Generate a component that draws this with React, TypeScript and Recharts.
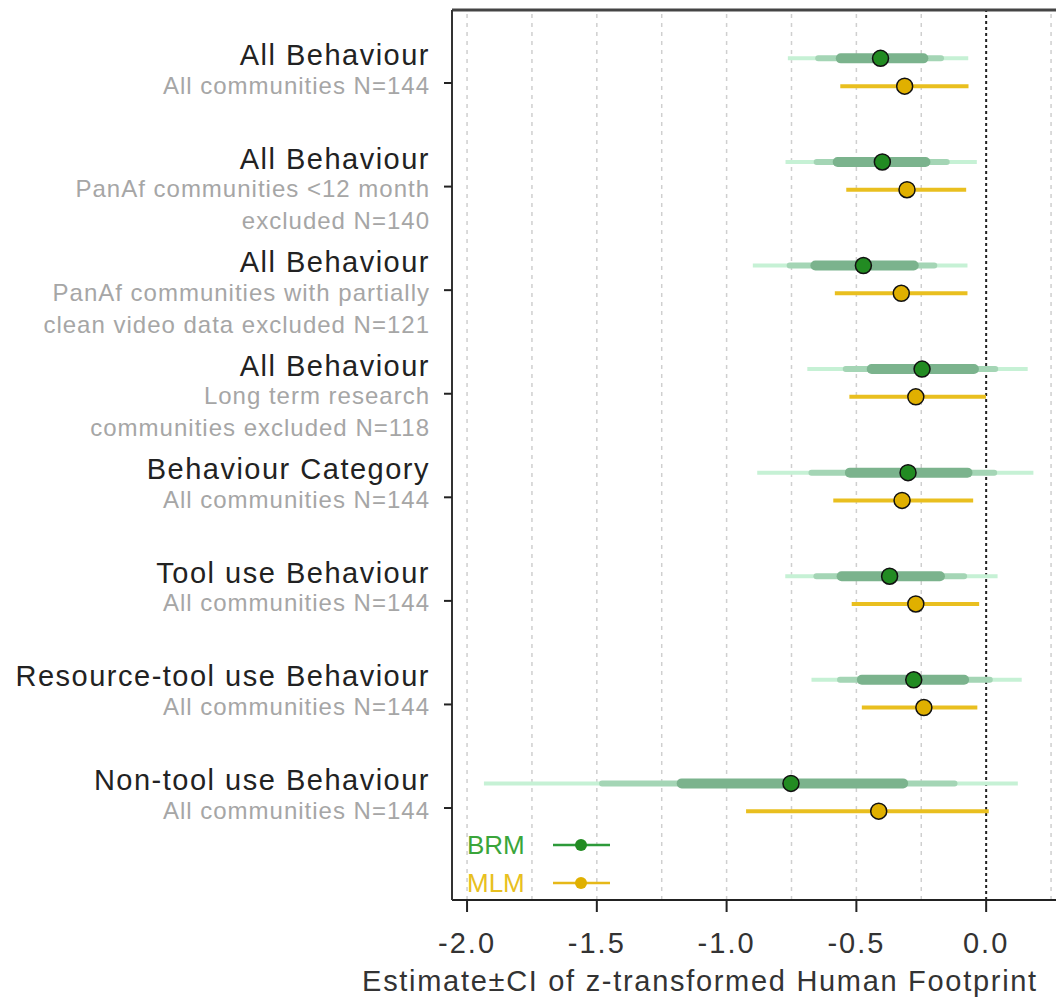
import React from "react";
import {
  ScatterChart,
  Scatter,
  XAxis,
  YAxis,
  ReferenceLine,
} from "recharts";

// rows from top to bottom
const rowTitles = [
  "All Behaviour",
  "All Behaviour",
  "All Behaviour",
  "All Behaviour",
  "Behaviour Category",
  "Tool use Behaviour",
  "Resource-tool use Behaviour",
  "Non-tool use Behaviour",
];
const rowSubtitles = [
  ["All communities N=144"],
  ["PanAf communities <12 month", "excluded N=140"],
  ["PanAf communities with partially", "clean video data excluded N=121"],
  ["Long term research", "communities excluded N=118"],
  ["All communities N=144"],
  ["All communities N=144"],
  ["All communities N=144"],
  ["All communities N=144"],
];
const rowPos = [8, 7, 6, 5, 4, 3, 2, 1];

// BRM estimate and nested credible intervals (outer / middle / inner)
const brmEst = [-0.407, -0.4, -0.473, -0.247, -0.301, -0.372, -0.279, -0.752];
const brmOuterLo = [-0.764, -0.773, -0.899, -0.689, -0.882, -0.774, -0.673, -1.935];
const brmOuterHi = [-0.069, -0.036, -0.072, 0.16, 0.182, 0.044, 0.137, 0.122];
const brmMidLo = [-0.647, -0.653, -0.757, -0.541, -0.673, -0.654, -0.563, -1.48];
const brmMidHi = [-0.174, -0.152, -0.2, 0.035, 0.031, -0.085, 0.014, -0.122];
const brmInnerLo = [-0.56, -0.572, -0.658, -0.441, -0.525, -0.557, -0.479, -1.173];
const brmInnerHi = [-0.242, -0.234, -0.279, -0.047, -0.072, -0.178, -0.085, -0.32];

// MLM estimate and CI
const mlmEst = [-0.314, -0.305, -0.327, -0.271, -0.324, -0.271, -0.24, -0.414];
const mlmLo = [-0.562, -0.539, -0.583, -0.527, -0.589, -0.518, -0.479, -0.925];
const mlmHi = [-0.068, -0.077, -0.072, -0.001, -0.05, -0.027, -0.034, 0.01];

const xTicks = [-2, -1.5, -1, -0.5, 0];
const gridValues = [-2, -1.75, -1.5, -1.25, -1, -0.75, -0.5, -0.25, 0.25];

const X_DOMAIN = [-2.058, 0.35];
const Y_DOMAIN = [0.112, 8.705];
const BRM_OFFSET = 0.238;
const MLM_OFFSET = -0.03;

const FONT = '"Liberation Sans", Arial, sans-serif';

const brmData = brmEst.map((v, i) => ({ x: v, y: rowPos[i] + BRM_OFFSET }));
const mlmData = mlmEst.map((v, i) => ({ x: v, y: rowPos[i] + MLM_OFFSET }));

const intervals = [
  { lo: brmOuterLo, hi: brmOuterHi, off: BRM_OFFSET, color: "#c6f1d5", w: 4, cap: "butt" },
  { lo: brmMidLo, hi: brmMidHi, off: BRM_OFFSET, color: "#a4d5b5", w: 6, cap: "round" },
  { lo: brmInnerLo, hi: brmInnerHi, off: BRM_OFFSET, color: "#7bb38d", w: 10, cap: "round" },
  { lo: mlmLo, hi: mlmHi, off: MLM_OFFSET, color: "#e9bf1f", w: 4, cap: "butt" },
];

const YTick = (props: any) => {
  const { x, y, payload } = props;
  const i = rowPos.indexOf(payload.value);
  if (i < 0) return null;
  const tx = x - 12;
  return (
    <g>
      <text
        x={tx}
        y={y - 28}
        textAnchor="end"
        dominantBaseline="central"
        fontFamily={FONT}
        fontSize={29}
        letterSpacing={1.5}
        fill="#222"
      >
        {rowTitles[i]}
      </text>
      {rowSubtitles[i].map((s, k) => (
        <text
          key={k}
          x={tx}
          y={y + 2 + k * 32}
          textAnchor="end"
          dominantBaseline="central"
          fontFamily={FONT}
          fontSize={24}
          letterSpacing={1}
          fill="#a6a6a6"
        >
          {s}
        </text>
      ))}
    </g>
  );
};

const XTick = (props: any) => {
  const { x, payload } = props;
  return (
    <text
      x={x}
      y={943}
      textAnchor="middle"
      dominantBaseline="central"
      fontFamily={FONT}
      fontSize={29}
      letterSpacing={2}
      fill="#333"
    >
      {payload.value.toFixed(1)}
    </text>
  );
};

const LegendBox = () => (
  <svg
    width={160}
    height={80}
    style={{ position: "absolute", left: 465, top: 825, display: "block" }}
  >
    <text x={2} y={20} dominantBaseline="central" fontFamily={FONT} fontSize={26} fill="#3aa53a">
      BRM
    </text>
    <line x1={88} x2={145} y1={20} y2={20} stroke="#2c9a3a" strokeWidth={2.5} />
    <circle cx={116} cy={20} r={6} fill="#228b22" />
    <text x={2} y={58} dominantBaseline="central" fontFamily={FONT} fontSize={26} fill="#e8c020">
      MLM
    </text>
    <line x1={88} x2={145} y1={58} y2={58} stroke="#e6b818" strokeWidth={2.5} />
    <circle cx={116} cy={58} r={6} fill="#e0b000" />
  </svg>
);

const dot = (fill: string) => (p: any) => (
  <circle cx={p.cx} cy={p.cy} r={8} fill={fill} stroke="#111" strokeWidth={1.5} />
);

export default function App() {
  return (
    <div
      style={{
        position: "absolute",
        left: 0,
        top: 0,
        width: 1056,
        height: 1001,
        overflow: "hidden",
        background: "#fff",
      }}
    >
      <ScatterChart
        width={1080}
        height={1001}
        margin={{ top: 10, right: 3, bottom: 0, left: 0 }}
      >
        <XAxis
          type="number"
          dataKey="x"
          domain={X_DOMAIN}
          ticks={xTicks}
          allowDataOverflow
          tickSize={12}
          height={101}
          axisLine={{ stroke: "#222", strokeWidth: 2 }}
          tickLine={{ stroke: "#222", strokeWidth: 2 }}
          tick={<XTick />}
          label={{
            content: () => (
              <text
                x={700}
                y={981}
                textAnchor="middle"
                dominantBaseline="central"
                fontFamily={FONT}
                fontSize={29}
                letterSpacing={1.7}
                fill="#333"
              >
                Estimate±CI of z-transformed Human Footprint
              </text>
            ),
          }}
        />
        <YAxis
          type="number"
          dataKey="y"
          domain={Y_DOMAIN}
          ticks={rowPos}
          allowDataOverflow
          width={452}
          tickSize={8}
          axisLine={{ stroke: "#333", strokeWidth: 2 }}
          tickLine={{ stroke: "#222", strokeWidth: 2 }}
          tick={<YTick />}
        />
        {gridValues.map((g) => (
          <ReferenceLine
            key={"g" + g}
            x={g}
            stroke="#cfcfcf"
            strokeWidth={1.5}
            strokeDasharray="4 5"
          />
        ))}
        <ReferenceLine x={0} stroke="#222" strokeWidth={2} strokeDasharray="3 3" />
        <ReferenceLine y={Y_DOMAIN[1]} stroke="#444" strokeWidth={3} />
        {intervals.map((iv, j) =>
          rowPos.map((r, i) => (
            <ReferenceLine
              key={"iv" + j + "-" + i}
              segment={[
                { x: iv.lo[i], y: r + iv.off },
                { x: iv.hi[i], y: r + iv.off },
              ]}
              stroke={iv.color}
              strokeWidth={iv.w}
              strokeLinecap={iv.cap as any}
            />
          ))
        )}
        <Scatter
          name="BRM"
          data={brmData}
          shape={dot("#228b22")}
          isAnimationActive={false}
        />
        <Scatter
          name="MLM"
          data={mlmData}
          shape={dot("#e0b000")}
          isAnimationActive={false}
        />
      </ScatterChart>
      <LegendBox />
    </div>
  );
}
